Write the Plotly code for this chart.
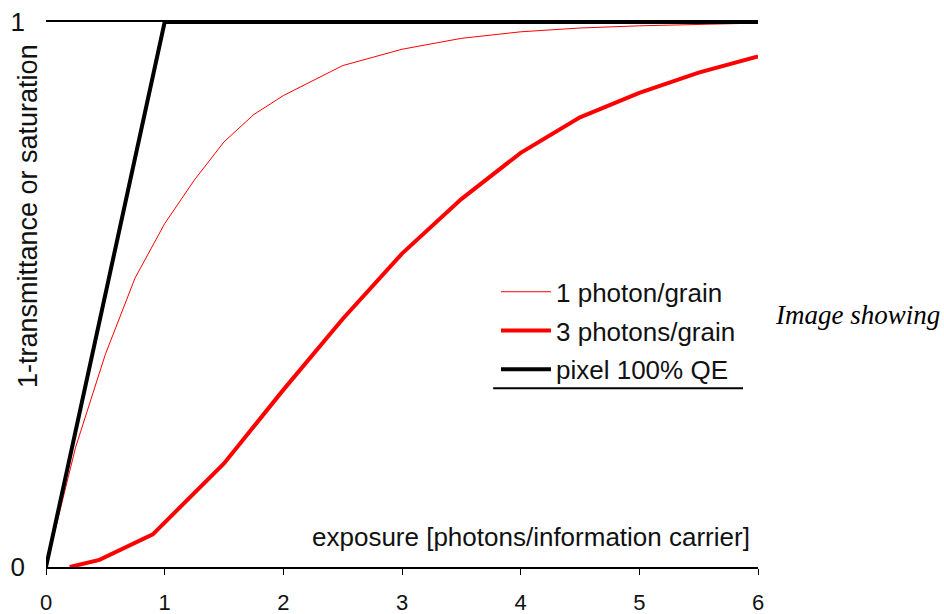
import plotly.graph_objects as go

# ---- data ----
x_one = [0, 0.25, 0.5, 0.75, 1, 1.25, 1.5, 1.75, 2, 2.5, 3, 3.5, 4, 4.5, 5, 5.5, 6]
y_one = [0, 0.22, 0.39, 0.53, 0.63, 0.71, 0.78, 0.83, 0.865, 0.92, 0.95, 0.97, 0.982, 0.989, 0.993, 0.996, 0.998]

x_three = [0.2, 0.45, 0.9, 1.5, 2, 2.5, 3, 3.5, 4, 4.5, 5, 5.5, 6]
y_three = [0, 0.013, 0.06, 0.19, 0.325, 0.455, 0.575, 0.675, 0.76, 0.825, 0.87, 0.907, 0.937]

x_pixel = [0, 1, 6]
y_pixel = [0, 1, 1]

x_ticks = [0, 1, 2, 3, 4, 5, 6]
y_ticks = [0, 1]

names = ["1 photon/grain", "3 photons/grain", "pixel 100% QE"]

FONT = "Liberation Sans, Arial, sans-serif"

fig = go.Figure()
fig.add_trace(go.Scatter(x=x_one, y=y_one, mode="lines", name=names[0],
                         line=dict(color="#ff0000", width=1), cliponaxis=False,
                         legendgroup="a"))
fig.add_trace(go.Scatter(x=x_three, y=y_three, mode="lines", name=names[1],
                         line=dict(color="#ff0000", width=4), cliponaxis=False,
                         legendgroup="b"))
fig.add_trace(go.Scatter(x=x_pixel, y=y_pixel, mode="lines", name=names[2],
                         line=dict(color="#000000", width=4), cliponaxis=False,
                         legendgroup="c"))

fig.update_layout(
    width=944, height=614,
    margin=dict(l=46, r=186, t=22, b=47, autoexpand=False),
    paper_bgcolor="white", plot_bgcolor="white",
    font=dict(family=FONT, size=20, color="#111111"),
    showlegend=True,
    legend=dict(x=0.632, y=0.548, xanchor="left", yanchor="top",
                bgcolor="rgba(0,0,0,0)", font=dict(size=26),
                traceorder="grouped", tracegroupgap=2, itemwidth=50),
    xaxis=dict(range=[0, 6], tickvals=x_ticks, ticktext=[str(v) for v in x_ticks],
               showgrid=False, zeroline=False, showline=True, linecolor="black",
               linewidth=2, mirror=True, ticks="outside", ticklen=6, tickcolor="black",
               tickfont=dict(size=22), ticklabelstandoff=9, automargin=False,
               ticklabeloverflow="allow"),
    yaxis=dict(range=[0, 1], tickvals=y_ticks, ticktext=["0", "1"],
               showgrid=False, zeroline=False, showline=False, ticks="",
               tickfont=dict(size=26), ticklabelstandoff=20, automargin=False,
               ticklabeloverflow="allow"),
    annotations=[
        dict(text="1-transmittance or saturation", xref="paper", yref="paper",
             x=-0.0253, y=0.644, textangle=-90, showarrow=False,
             xanchor="center", yanchor="middle", font=dict(size=27)),
        dict(text="exposure [photons/information carrier]", xref="paper", yref="paper",
             x=0.992, y=0.055, showarrow=False, xanchor="right", yanchor="middle",
             font=dict(size=26)),
        dict(text="<i>Image showing</i>", xref="paper", yref="paper",
             x=1.021, y=0.462, showarrow=False, xanchor="left", yanchor="middle",
             font=dict(family="Liberation Serif, Times New Roman, serif", size=27,
                       color="#000000")),
    ],
    shapes=[
        dict(type="line", xref="paper", yref="paper", x0=0.628, x1=0.979,
             y0=0.328, y1=0.328, line=dict(color="black", width=2)),
    ],
)

fig.write_html("out.html",
               config={"displayModeBar": False},
               post_script="document.body.style.margin='0';document.body.style.overflow='hidden';")
